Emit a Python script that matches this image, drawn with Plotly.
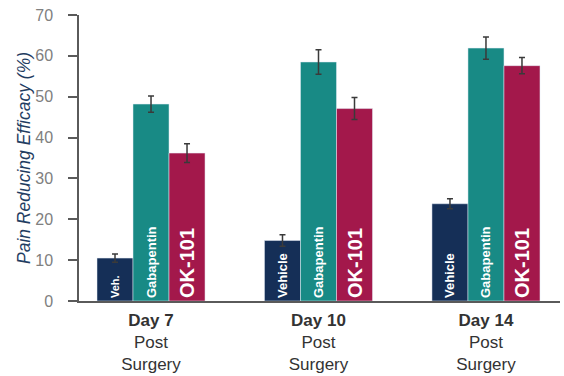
import plotly.graph_objects as go

days = ["<b>Day 7</b><br>Post<br>Surgery", "<b>Day 10</b><br>Post<br>Surgery", "<b>Day 14</b><br>Post<br>Surgery"]
vehicle = [10.5, 14.8, 23.8]
vehicle_err = [1.0, 1.4, 1.2]
vehicle_txt = ["Veh.", "Vehicle", "Vehicle"]
gabapentin = [48.2, 58.5, 61.9]
gabapentin_err = [2.0, 3.0, 2.7]
ok101 = [36.2, 47.1, 57.6]
ok101_err = [2.3, 2.7, 2.0]

FONT = "Liberation Sans, Arial, sans-serif"

def err(vals):
    return dict(type="data", array=vals, visible=True, color="#3a3a3a", thickness=1.5, width=3)

fig = go.Figure()
fig.add_bar(x=days, y=vehicle, error_y=err(vehicle_err), marker_color="#152f57",
            text=vehicle_txt, textposition="inside", insidetextanchor="start", textangle=-90,
            textfont=dict(color="white", size=[11, 13, 13], family=FONT), name="Vehicle",
            texttemplate="<b>%{text}</b>")
fig.add_bar(x=days, y=gabapentin, error_y=err(gabapentin_err), marker_color="#188a85",
            text=["Gabapentin"] * 3, textposition="inside", insidetextanchor="start", textangle=-90,
            textfont=dict(color="white", size=13, family=FONT), name="Gabapentin",
            texttemplate="<b>%{text}</b>")
fig.add_bar(x=days, y=ok101, error_y=err(ok101_err), marker_color="#a3184b",
            text=["OK-101"] * 3, textposition="inside", insidetextanchor="start", textangle=-90,
            textfont=dict(color="white", size=20, family=FONT), name="OK-101",
            texttemplate="<b>%{text}</b>")

fig.update_layout(
    width=564, height=376,
    margin=dict(l=79, r=4, t=15, b=75),
    barmode="group", bargap=0.355, bargroupgap=0,
    plot_bgcolor="white", paper_bgcolor="white",
    showlegend=False,
    font=dict(family=FONT),
)
fig.update_xaxes(
    range=[-0.43, 2.442], showline=True, linecolor="#5a5a5a", linewidth=1.5,
    ticks="", ticklabelstandoff=3, automargin=False,
    tickfont=dict(size=17, color="#333", family=FONT), showgrid=False,
)
fig.update_yaxes(
    range=[0, 70], dtick=10, showline=True, linecolor="#5a5a5a", linewidth=1.5,
    ticks="outside", ticklen=9, tickcolor="#5a5a5a", tickwidth=1.5, ticklabelstandoff=12,
    automargin=False,
    tickfont=dict(size=16, color="#808080", family=FONT), showgrid=False, zeroline=False,
    title=dict(text="<i>Pain Reducing Efficacy (%)</i>", font=dict(size=17.5, color="#1f3d62", family=FONT), standoff=0),
)
fig.write_html("out.html")
